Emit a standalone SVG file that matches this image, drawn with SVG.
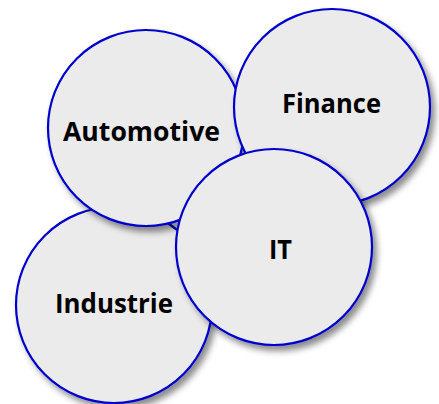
<svg xmlns="http://www.w3.org/2000/svg" width="439" height="404" viewBox="0 0 439 404">
<defs>
<filter id="sh" x="-20%" y="-20%" width="150%" height="150%">
<feDropShadow dx="4" dy="5" stdDeviation="3" flood-color="#000" flood-opacity="0.45"/>
</filter>
</defs>
<style>
.c{fill:#ebebeb;stroke:#0000cc;stroke-width:2.2;filter:url(#sh)}
.t{font-family:"Open Sans","Liberation Sans",sans-serif;font-weight:bold;font-size:26px;fill:#000;text-anchor:middle}
</style>
<rect width="439" height="404" fill="#fff"/>
<g id="connectors"></g>
<g id="industrie"><circle class="c" cx="114" cy="305" r="98"/><text class="t" x="114" y="313" textLength="118" lengthAdjust="spacingAndGlyphs">Industrie</text></g>
<g id="automotive"><circle class="c" cx="146" cy="128" r="98"/><text class="t" x="141.5" y="141" textLength="157" lengthAdjust="spacingAndGlyphs">Automotive</text></g>
<g id="finance"><circle class="c" cx="332" cy="107" r="98"/><text class="t" x="331.5" y="113" textLength="99" lengthAdjust="spacingAndGlyphs">Finance</text></g>
<g id="it"><circle class="c" cx="274" cy="247" r="98"/><text class="t" x="280.5" y="259" textLength="23" lengthAdjust="spacingAndGlyphs">IT</text></g>
</svg>
